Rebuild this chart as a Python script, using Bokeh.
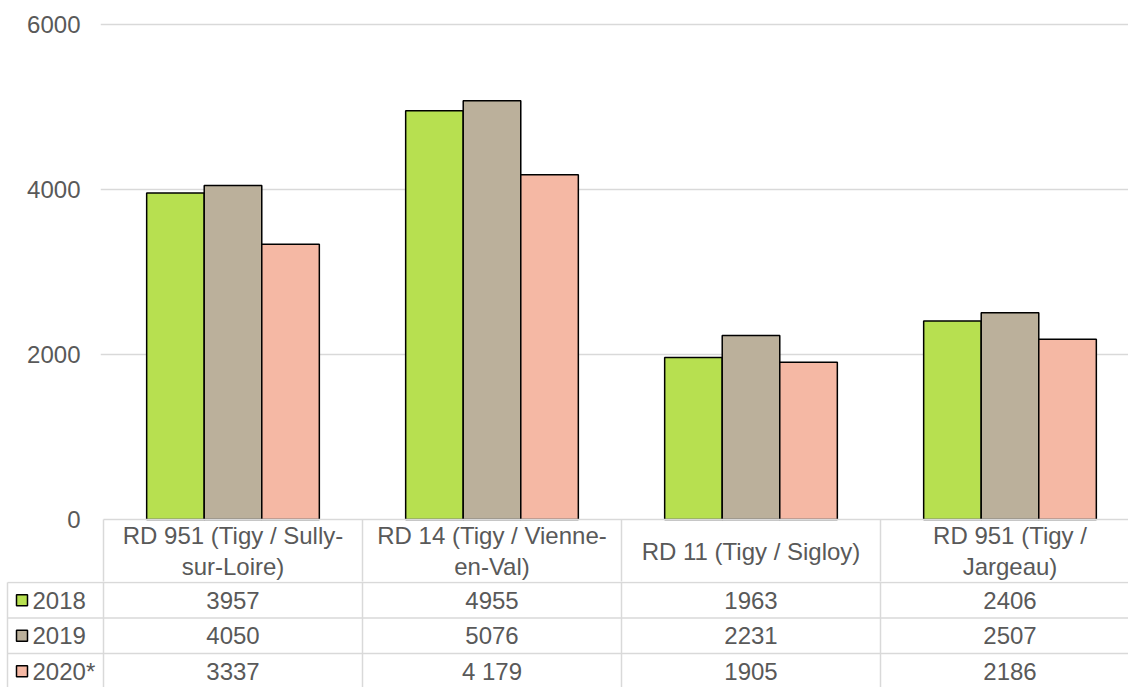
from bokeh.plotting import figure
from bokeh.layouts import column
from bokeh.models import Range1d, FixedTicker, ColumnDataSource
from bokeh.core.properties import value
from bokeh.embed import file_html
from bokeh.resources import INLINE

# ---------------- data ----------------
categories = [
    "RD 951 (Tigy / Sully-\nsur-Loire)",
    "RD 14 (Tigy / Vienne-\nen-Val)",
    "RD 11 (Tigy / Sigloy)",
    "RD 951 (Tigy /\nJargeau)",
]
series_names = ["2018", "2019", "2020*"]
values_2018 = [3957, 4955, 1963, 2406]
values_2019 = [4050, 5076, 2231, 2507]
values_2020 = [3337, 4179, 1905, 2186]
labels_2018 = ["3957", "4955", "1963", "2406"]
labels_2019 = ["4050", "5076", "2231", "2507"]
labels_2020 = ["3337", "4 179", "1905", "2186"]
y_ticks = [0, 2000, 4000, 6000]

# ---------------- styles / layout ----------------
colors = ["#b7e050", "#bbb09b", "#f5b8a4"]
FONT = "Liberation Sans"
FS = "24px"
TXT = "#595959"
LINE = "#d9d9d9"
W, H = 1128, 687
PLOT_LEFT = 103        # px where category 0 starts
CAT_PX = 259           # px per category
FRAME_LEFT = 100
ZERO_Y = 519           # px of value 0
PX_PER_UNIT = 165 / 2000
TOP_H = 581
BAR_W = 1 / 4.5
offsets = [-BAR_W, 0, BAR_W]

HEADER_TOP = 520
HEADER_H = 62
ROW_H = 35.5
TABLE_LEFT = 7


def px2x(px):
    return (px - PLOT_LEFT) / CAT_PX


def py2val(py):
    return (ZERO_Y - py) / PX_PER_UNIT


series_vals = [values_2018, values_2019, values_2020]
series_lbls = [labels_2018, labels_2019, labels_2020]
n = len(categories)

# ---------------- chart (+ table header) ----------------
p1 = figure(width=W, height=TOP_H, output_backend="svg", toolbar_location=None,
            x_range=Range1d(px2x(FRAME_LEFT), px2x(W)),
            y_range=Range1d(py2val(TOP_H), py2val(0)),
            min_border_left=FRAME_LEFT, min_border_right=0, min_border_top=0,
            min_border_bottom=0, x_axis_location=None, outline_line_color=None)
p1.frame_align = False
p1.xgrid.visible = False
p1.ygrid.ticker = FixedTicker(ticks=y_ticks[1:])
p1.ygrid.grid_line_color = LINE
p1.ygrid.grid_line_width = 1.5
ax = p1.yaxis[0]
ax.ticker = FixedTicker(ticks=y_ticks)
ax.axis_line_color = None
ax.major_tick_line_color = None
ax.minor_tick_line_color = None
ax.major_tick_out = 0
ax.major_label_standoff = 20
ax.major_label_text_font = FONT
ax.major_label_text_font_size = FS
ax.major_label_text_color = TXT

for k in range(3):
    src = ColumnDataSource(dict(x=[i + 0.5 + offsets[k] for i in range(n)], top=series_vals[k]))
    p1.vbar(x="x", top="top", bottom=0, width=BAR_W, source=src,
            fill_color=colors[k], line_color="black", line_width=1.5)

# table top line and vertical separators (header part)
p1.segment(x0=[0], y0=[0], x1=[n + 0.2], y1=[0], line_color=LINE, line_width=1.5)
p1.segment(x0=list(range(n)), y0=[0] * n, x1=list(range(n)), y1=[py2val(TOP_H + 10)] * n,
           line_color=LINE, line_width=1.5)

# header text
p1.text(x=[i + 0.5 for i in range(n)], y=[py2val(HEADER_TOP + HEADER_H / 2 - 0.5)] * n,
        text=categories, text_align="center", text_baseline="middle",
        text_font=value(FONT), text_font_size=FS, text_color=TXT, text_line_height=1.12)

# ---------------- data table rows ----------------
H2 = H - TOP_H
p2 = figure(width=W, height=H2, output_backend="svg", toolbar_location=None,
            x_range=Range1d(px2x(0), px2x(W)), y_range=Range1d(H, TOP_H),
            min_border=0, min_border_left=0, min_border_right=0, min_border_top=0,
            min_border_bottom=0, x_axis_location=None, y_axis_location=None,
            outline_line_color=None)
p2.frame_align = False
p2.grid.visible = False

row_tops = [HEADER_TOP + HEADER_H + r * ROW_H for r in range(3)]
row_mid = [t + ROW_H / 2 for t in row_tops]

p2.segment(x0=list(range(n)), y0=[TOP_H - 5] * n, x1=list(range(n)), y1=[H + 5] * n,
           line_color=LINE, line_width=1.5)
p2.segment(x0=[px2x(TABLE_LEFT)], y0=[row_tops[0]], x1=[px2x(TABLE_LEFT)], y1=[H + 5],
           line_color=LINE, line_width=1.5)
p2.segment(x0=[px2x(TABLE_LEFT)] * 3, y0=row_tops, x1=[n + 0.2] * 3, y1=row_tops,
           line_color=LINE, line_width=1.5)

# legend keys + names
p2.rect(x=[px2x(21.5)] * 3, y=row_mid, width=11, height=11,
        width_units="screen", height_units="screen",
        fill_color=colors, line_color="black", line_width=1.5)
p2.text(x=[px2x(32)] * 3, y=row_mid, text=series_names, text_align="left",
        text_baseline="middle", text_font=value(FONT), text_font_size=FS, text_color=TXT)

# values
for k in range(3):
    p2.text(x=[i + 0.5 for i in range(n)], y=[row_mid[k]] * n, text=series_lbls[k],
            text_align="center", text_baseline="middle", text_font=value(FONT),
            text_font_size=FS, text_color=TXT)

layout = column(p1, p2, spacing=0)
open("out.html", "w").write(file_html(layout, INLINE))
